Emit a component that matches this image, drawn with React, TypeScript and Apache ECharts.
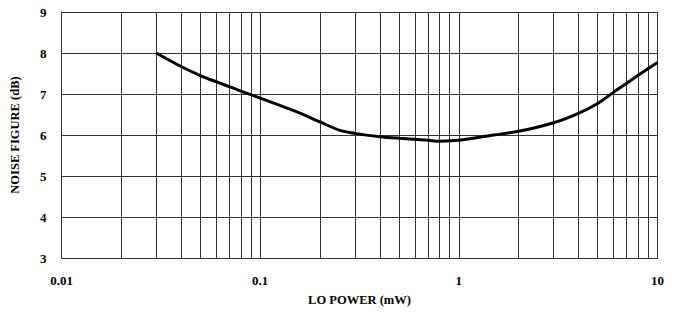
import React, { useEffect, useRef } from "react";
import * as echarts from "echarts";

const loPower = [0.03, 0.04, 0.05, 0.06, 0.07, 0.08, 0.1, 0.15, 0.2, 0.25, 0.3, 0.4, 0.5, 0.7, 0.8, 1, 1.5, 2, 3, 4, 5, 6, 8, 10];
const noiseFigure = [8.0, 7.67, 7.45, 7.3, 7.18, 7.07, 6.9, 6.58, 6.32, 6.12, 6.04, 5.96, 5.92, 5.87, 5.85, 5.87, 6.0, 6.09, 6.3, 6.53, 6.77, 7.04, 7.46, 7.77];
const minorGrid = [0.02, 0.03, 0.04, 0.05, 0.06, 0.07, 0.08, 0.09, 0.2, 0.3, 0.4, 0.5, 0.6, 0.7, 0.8, 0.9, 2, 3, 4, 5, 6, 7, 8, 9];
const xTickLabels = ["0.01", "0.1", "1", "10"];

const FONT = "'Liberation Serif', 'Times New Roman', serif";

export default function App() {
  const ref = useRef<HTMLDivElement>(null);
  useEffect(() => {
    if (!ref.current) return;
    const chart = echarts.init(ref.current, null, { renderer: "svg" });
    const gridColor = "#333";
    chart.setOption({
      animation: false,
      backgroundColor: "#fff",
      grid: { left: 61.5, right: 15.5, top: 12, bottom: 55 },
      xAxis: {
        type: "log",
        logBase: 10,
        min: 0.01,
        max: 10,
        name: "LO POWER (mW)",
        nameLocation: "middle",
        nameGap: 35,
        nameTextStyle: { fontFamily: FONT, fontWeight: "bold", fontSize: 12.5, color: "#000" },
        axisLine: { show: true, lineStyle: { color: gridColor, width: 1 } },
        axisTick: { show: false },
        axisLabel: {
          margin: 16,
          fontFamily: FONT,
          fontWeight: "bold",
          fontSize: 13,
          color: "#000",
          formatter: (v: number) => {
            const idx = Math.round(Math.log10(v)) + 2;
            return xTickLabels[idx] ?? "";
          },
        },
        splitLine: { show: true, lineStyle: { color: gridColor, width: 1 } },
      },
      yAxis: {
        type: "value",
        min: 3,
        max: 9,
        interval: 1,
        name: "NOISE FIGURE (dB)",
        nameLocation: "middle",
        nameGap: 40,
        nameTextStyle: { fontFamily: FONT, fontWeight: "bold", fontSize: 12.5, color: "#000" },
        axisLine: { show: true, lineStyle: { color: gridColor, width: 1 } },
        axisTick: { show: false },
        axisLabel: { margin: 15, fontFamily: FONT, fontWeight: "bold", fontSize: 13, color: "#000" },
        splitLine: { show: true, lineStyle: { color: gridColor, width: 1 } },
      },
      series: [
        {
          type: "line",
          data: loPower.map((x, i) => [x, noiseFigure[i]]),
          smooth: 0.3,
          showSymbol: false,
          lineStyle: { color: "#000", width: 3 },
          z: 5,
          markLine: {
            silent: true,
            symbol: "none",
            label: { show: false },
            lineStyle: { color: gridColor, width: 1, type: "solid" },
            data: minorGrid.map((v) => ({ xAxis: v })),
            z: 1,
          },
        },
      ],
    });
    return () => chart.dispose();
  }, []);
  return <div ref={ref} style={{ position: "fixed", left: 0, top: 0, width: 673, height: 313 }} />;
}
